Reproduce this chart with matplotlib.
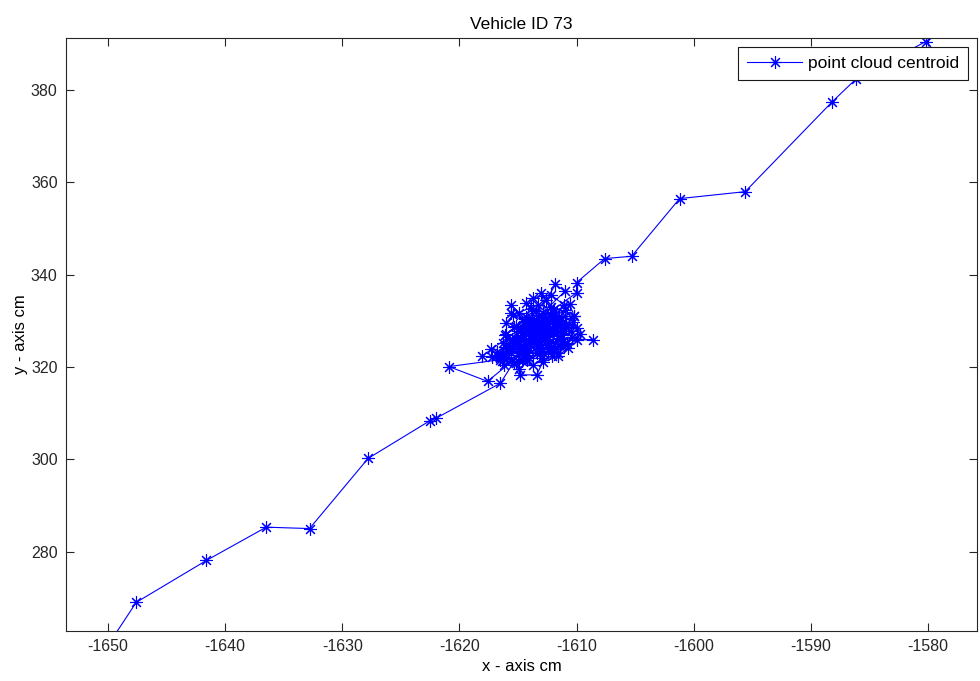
import matplotlib
matplotlib.use("Agg")
import matplotlib.pyplot as plt

plt.rcParams['font.family'] = ['Liberation Sans', 'DejaVu Sans']
plt.rcParams['axes.unicode_minus'] = False

# centroid track: approach from lower left, loiter in a cluster, leave to upper right
approach_x = [-1650.2, -1647.6, -1641.6, -1636.5, -1632.8, -1627.8, -1622.5, -1622.0, -1616.5]
approach_y = [259.0, 269.0, 278.1, 285.3, 285.0, 300.2, 308.4, 308.9, 316.5]

cluster1_x = [-1615.0, -1613.2, -1611.5, -1614.6, -1612.0, -1613.8, -1615.8, -1611.2, -1612.9, -1614.1,
              -1616.3, -1613.5, -1611.0, -1612.4, -1615.2, -1613.0, -1610.8, -1612.7, -1614.9, -1615.6,
              -1613.6, -1611.6, -1614.3, -1612.2, -1610.2, -1612.8, -1614.7, -1616.0, -1613.1, -1611.4,
              -1613.9, -1614.3, -1612.6, -1610.5, -1613.4, -1615.5, -1614.0, -1611.9, -1613.0, -1612.3,
              -1614.8, -1616.8]
cluster1_y = [322.5, 326.8, 329.9, 327.5, 324.3, 330.6, 325.1, 327.0, 331.8, 323.6,
              322.9, 328.4, 332.3, 326.0, 329.0, 322.0, 325.2, 329.5, 331.7, 333.5,
              327.1, 323.0, 325.6, 333.0, 331.0, 327.9, 321.4, 327.2, 325.0, 328.6,
              332.6, 333.9, 330.2, 327.7, 323.0, 324.0, 328.9, 331.2, 336.1, 328.1,
              326.3, 323.3]

core_x = [-1616.5, -1615.8, -1614.9, -1614.0, -1613.2, -1612.4, -1611.6, -1611.0, -1612.0, -1613.0,
          -1614.1, -1615.1, -1616.0, -1616.8, -1615.6, -1614.5, -1613.4, -1612.5, -1611.7, -1610.9,
          -1611.4, -1612.2, -1613.1, -1614.2, -1615.2, -1616.4, -1617.2, -1616.1, -1615.0, -1614.0,
          -1613.0, -1612.1, -1611.3, -1612.6, -1613.8, -1614.7, -1615.5, -1616.3, -1615.7, -1614.4,
          -1612.8, -1611.9, -1611.0, -1610.4, -1611.1, -1612.3, -1613.6, -1614.8, -1613.9, -1612.9,
          -1612.0, -1613.2, -1614.4, -1615.3, -1616.1, -1615.9, -1614.6, -1613.4, -1612.6]
core_y = [322.0, 323.5, 324.9, 326.3, 327.6, 328.8, 330.0, 331.0, 330.5, 329.0,
          327.6, 325.8, 324.4, 322.6, 321.8, 323.1, 324.6, 325.9, 327.4, 328.6,
          326.0, 324.4, 323.0, 321.6, 320.9, 321.2, 322.1, 323.0, 324.0, 325.2,
          326.5, 327.9, 329.2, 329.7, 328.7, 327.0, 326.1, 325.3, 324.0, 322.0,
          322.9, 323.8, 325.0, 326.5, 327.8, 326.9, 325.6, 325.5, 329.5, 330.9,
          332.0, 331.2, 330.0, 328.6, 327.0, 323.9, 324.2, 326.0, 327.3]

detour_x = [-1617.6, -1620.9, -1616.5]
detour_y = [316.9, 320.1, 321.6]

cluster2_x = [-1613.7, -1612.1, -1610.0, -1608.6, -1611.3, -1613.3, -1615.6, -1614.5, -1612.5, -1614.9,
              -1614.8, -1613.4, -1612.9, -1611.6, -1610.7, -1612.0, -1613.6, -1611.0, -1611.8, -1612.6,
              -1613.5, -1615.0, -1617.3, -1618.1, -1615.9, -1614.2, -1612.7, -1610.9, -1610.0, -1611.5,
              -1613.1, -1614.4, -1613.9, -1612.3, -1610.6, -1610.2, -1611.8, -1613.2, -1615.3, -1616.2,
              -1614.1, -1612.4, -1611.7, -1612.9, -1614.3, -1613.7, -1612.2, -1611.1, -1610.3, -1609.7,
              -1611.4, -1613.0, -1614.6, -1616.0, -1615.4, -1613.3, -1611.9, -1610.0, -1610.0]
cluster2_y = [320.5, 322.4, 325.9, 325.9, 326.2, 329.3, 331.7, 329.8, 324.8, 319.6,
              318.3, 318.3, 321.0, 322.3, 324.2, 327.3, 330.0, 336.4, 337.9, 334.5,
              332.1, 327.9, 323.8, 322.3, 322.1, 324.6, 326.4, 329.4, 328.4, 330.9,
              328.0, 322.7, 326.2, 331.6, 333.7, 331.0, 329.0, 324.2, 320.9, 320.4,
              321.9, 323.5, 325.6, 329.1, 330.8, 335.0, 335.7, 333.5, 329.8, 327.1,
              324.6, 326.6, 328.4, 329.6, 331.3, 333.5, 332.6, 336.1, 338.3]

leave_x = [-1607.6, -1605.3, -1601.2, -1595.6, -1588.2, -1586.1, -1580.2, -1577.5]
leave_y = [343.5, 344.0, 356.5, 358.0, 377.4, 382.5, 390.5, 395.0]

xs = approach_x + cluster1_x + core_x + detour_x + cluster2_x + leave_x
ys = approach_y + cluster1_y + core_y + detour_y + cluster2_y + leave_y

fig = plt.figure(figsize=(9.8, 6.81), dpi=100)
ax = fig.add_axes([0.0673, 0.0734, 0.9297, 0.8715])

ax.plot(xs, ys, color='#0000ff', linewidth=0.8, marker=(8, 2, 0), markersize=9,
        markeredgewidth=0.8, markeredgecolor='#0000ff', label='point cloud centroid')

ax.set_xlim(-1653.6, -1575.8)
ax.set_ylim(262.8, 391.4)
ax.set_xticks([-1650, -1640, -1630, -1620, -1610, -1600, -1590, -1580])
ax.set_yticks([280, 300, 320, 340, 360, 380])

ax.tick_params(direction='in', top=True, right=True, length=6, width=0.8,
               labelsize=11.5, colors='0.15', pad=6)
for sp in ax.spines.values():
    sp.set_color('0.15')
    sp.set_linewidth(0.8)

ax.set_title('Vehicle ID 73', fontsize=12.5, pad=6)
ax.set_xlabel('x - axis cm', fontsize=12, labelpad=3)
ax.set_ylabel('y - axis cm', fontsize=12, labelpad=2)

leg = ax.legend(loc='upper right', fancybox=False, framealpha=1, edgecolor='0.1',
                fontsize=12.5, handlelength=3.2, handletextpad=0.3,
                borderaxespad=0.55, borderpad=0.5)
leg.get_frame().set_linewidth(0.8)

fig.savefig('out.png', dpi=100)
